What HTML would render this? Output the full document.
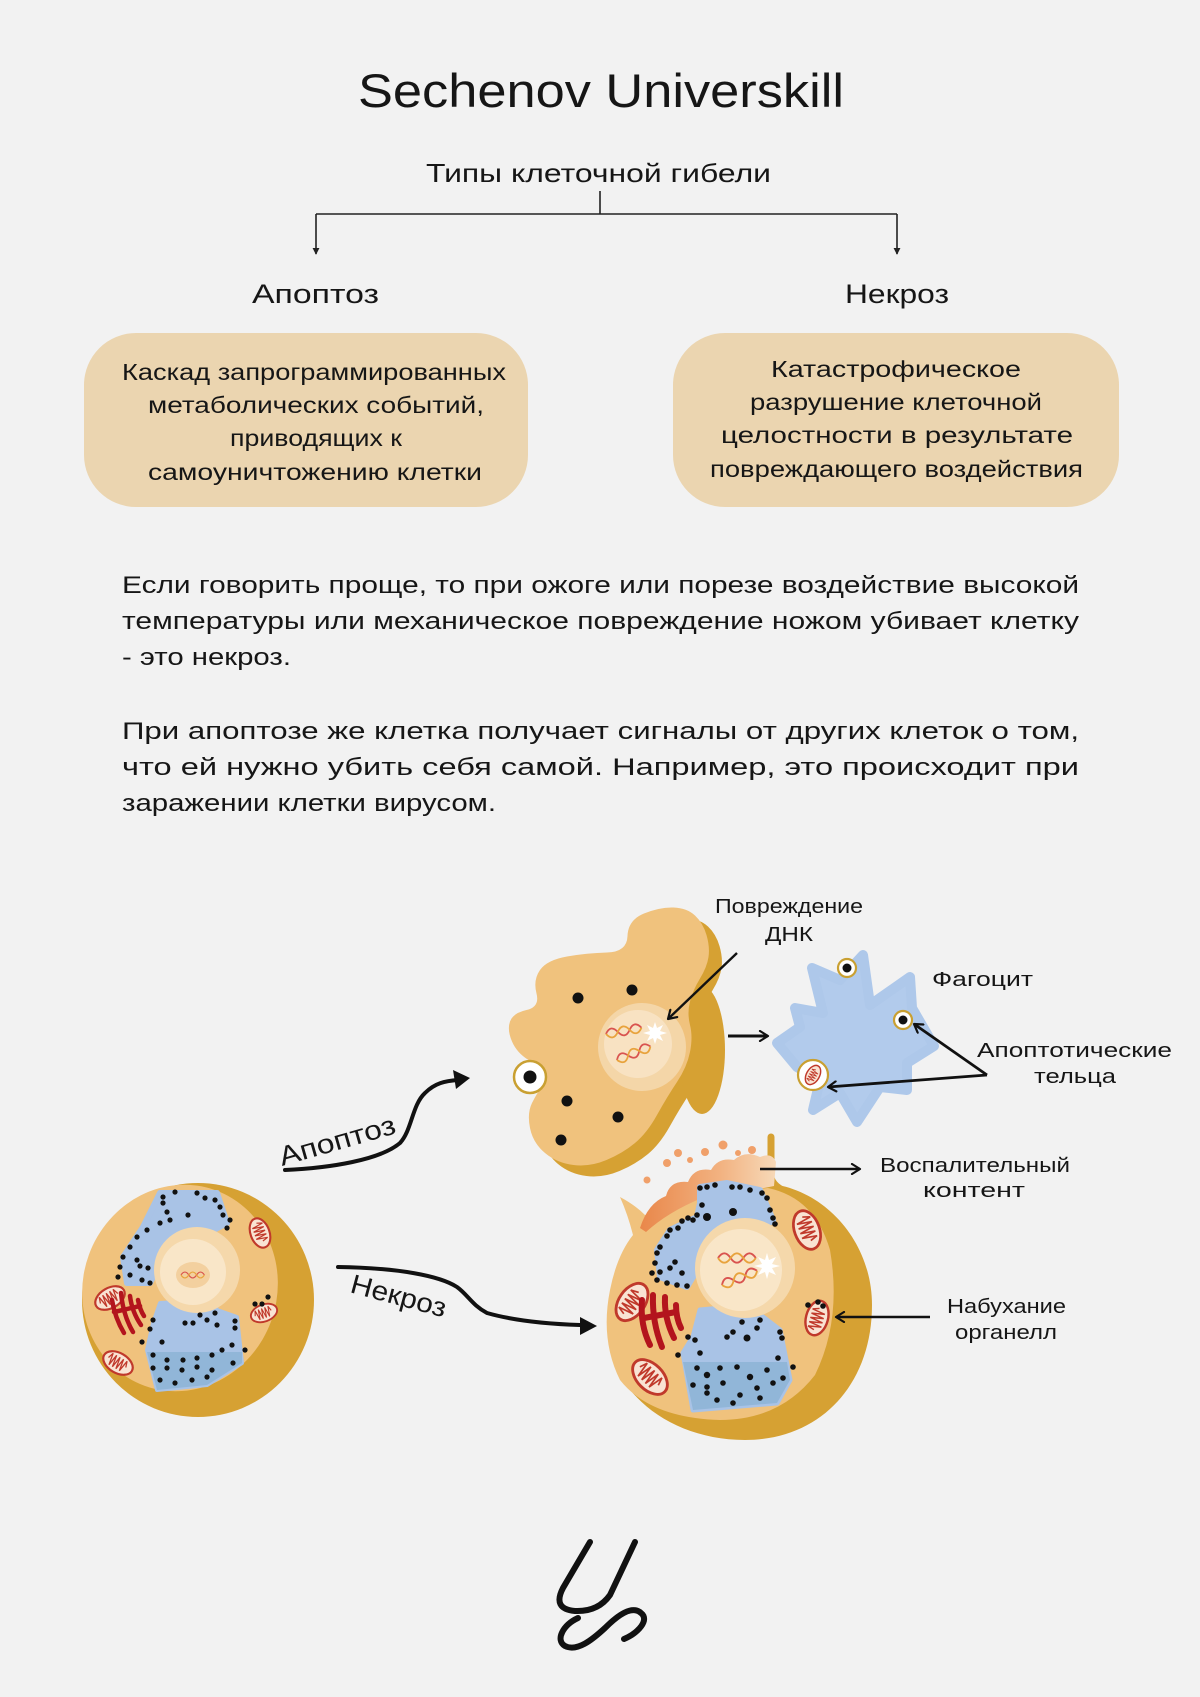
<!DOCTYPE html>
<html>
<head>
<meta charset="utf-8">
<style>
html,body{margin:0;padding:0;background:#f2f2f2;}
svg{display:block;}
text{font-family:"Liberation Sans","DejaVu Sans",sans-serif;fill:#161616;}
</style>
</head>
<body>
<svg width="1200" height="1697" viewBox="0 0 1200 1697" xmlns="http://www.w3.org/2000/svg">
<defs>
  <marker id="chev" viewBox="0 0 12 12" refX="10" refY="6" markerWidth="12" markerHeight="12" markerUnits="userSpaceOnUse" orient="auto">
    <path d="M2,1 L10,6 L2,11" fill="none" stroke="#111" stroke-width="2.2" stroke-linecap="round" stroke-linejoin="round"/>
  </marker>
  <marker id="tri" viewBox="0 0 8 8" refX="7" refY="4" markerWidth="7" markerHeight="7" markerUnits="userSpaceOnUse" orient="auto">
    <path d="M0,0 L8,4 L0,8 Z" fill="#222"/>
  </marker>
  <g id="mito">
    <ellipse rx="16" ry="10" fill="#f9e3d3" stroke="#c0392b" stroke-width="2.2"/>
    <path d="M-11,0 l2,-6 l2,12 l2,-12 l2,12 l2,-12 l2,12 l2,-12 l2,12 l2,-12 l2,6" fill="none" stroke="#c0392b" stroke-width="1.3"/>
  </g>
  <g id="helix">
    <path d="M0,0 q6,-9 12,0 t12,0 t12,0" fill="none" stroke="#d9534f" stroke-width="1.8"/>
    <path d="M0,0 q6,9 12,0 t12,0 t12,0" fill="none" stroke="#e8a33d" stroke-width="1.8"/>
  </g>
  <linearGradient id="infl" x1="0" y1="0" x2="1" y2="0">
    <stop offset="0" stop-color="#e9874a"/>
    <stop offset="0.6" stop-color="#f2b382"/>
    <stop offset="1" stop-color="#f7d9b8"/>
  </linearGradient>
</defs>

<!-- Title -->
<text x="358" y="107" font-size="47" textLength="486" lengthAdjust="spacingAndGlyphs">Sechenov Universkill</text>
<text x="426" y="182" font-size="26" textLength="345" lengthAdjust="spacingAndGlyphs">Типы клеточной гибели</text>

<!-- Connector -->
<g stroke="#222" stroke-width="1.6" fill="none">
  <line x1="600" y1="191" x2="600" y2="214"/>
  <line x1="316" y1="214" x2="897" y2="214"/>
  <line x1="316" y1="214" x2="316" y2="254" marker-end="url(#tri)"/>
  <line x1="897" y1="214" x2="897" y2="254" marker-end="url(#tri)"/>
</g>

<text x="252" y="303" font-size="27" textLength="127" lengthAdjust="spacingAndGlyphs">Апоптоз</text>
<text x="845" y="303" font-size="27" textLength="104" lengthAdjust="spacingAndGlyphs">Некроз</text>

<!-- Boxes -->
<rect x="84" y="333" width="444" height="174" rx="52" fill="#ebd5b0"/>
<rect x="673" y="333" width="446" height="174" rx="52" fill="#ebd5b0"/>

<g font-size="23">
  <text x="122" y="380" textLength="384" lengthAdjust="spacingAndGlyphs">Каскад запрограммированных</text>
  <text x="148" y="413" textLength="336" lengthAdjust="spacingAndGlyphs">метаболических событий,</text>
  <text x="230" y="446" textLength="172" lengthAdjust="spacingAndGlyphs">приводящих к</text>
  <text x="148" y="480" textLength="334" lengthAdjust="spacingAndGlyphs">самоуничтожению клетки</text>

  <text x="771" y="377" textLength="250" lengthAdjust="spacingAndGlyphs">Катастрофическое</text>
  <text x="750" y="410" textLength="292" lengthAdjust="spacingAndGlyphs">разрушение клеточной</text>
  <text x="721" y="443" textLength="352" lengthAdjust="spacingAndGlyphs">целостности в результате</text>
  <text x="710" y="477" textLength="373" lengthAdjust="spacingAndGlyphs">повреждающего воздействия</text>
</g>

<!-- Paragraphs -->
<g font-size="24">
  <text x="122" y="593" textLength="957" lengthAdjust="spacingAndGlyphs">Если говорить проще, то при ожоге или порезе воздействие высокой</text>
  <text x="122" y="629" textLength="957" lengthAdjust="spacingAndGlyphs">температуры или механическое повреждение ножом убивает клетку</text>
  <text x="122" y="665" textLength="169" lengthAdjust="spacingAndGlyphs">- это некроз.</text>

  <text x="122" y="739" textLength="957" lengthAdjust="spacingAndGlyphs">При апоптозе же клетка получает сигналы от других клеток о том,</text>
  <text x="122" y="775" textLength="957" lengthAdjust="spacingAndGlyphs">что ей нужно убить себя самой. Например, это происходит при</text>
  <text x="122" y="811" textLength="374" lengthAdjust="spacingAndGlyphs">заражении клетки вирусом.</text>
</g>

<!-- ===== Apoptotic cell ===== -->
<g>
  <g transform="translate(13,11)">
    <path fill="#d6a133" d="M627.5,936 Q628,920 644,913.5 Q660,907 673.5,907.5 Q687,908 695,915.5 Q703,923 706.5,935 Q710,947 708.5,957 Q707,967 700,978.5 Q693,990 690,1001.5 Q687,1013 690,1025 Q693,1037 690,1052 Q687,1067 677,1082 Q667,1097 657,1115 Q647,1133 635,1143 Q623,1153 606.5,1160 Q590,1167 573.5,1165 Q557,1163 545,1153 Q533,1143 530,1128 Q527,1113 532,1103 Q537,1093 542,1086.5 Q547,1080 543.5,1073.5 Q540,1067 528.5,1060 Q517,1053 512,1041.5 Q507,1030 510,1021.5 Q513,1013 526.5,1010 Q540,1007 536.5,993.5 Q533,980 540,970 Q547,960 567,956.5 Q587,953 607,952.5 Q627,952 627.5,936 Z"/>
  </g>
  <ellipse cx="702" cy="1050" rx="23" ry="64" fill="#d6a133"/>
  <path fill="#f0c27d" d="M627.5,936 Q628,920 644,913.5 Q660,907 673.5,907.5 Q687,908 695,915.5 Q703,923 706.5,935 Q710,947 708.5,957 Q707,967 700,978.5 Q693,990 690,1001.5 Q687,1013 690,1025 Q693,1037 690,1052 Q687,1067 677,1082 Q667,1097 657,1115 Q647,1133 635,1143 Q623,1153 606.5,1160 Q590,1167 573.5,1165 Q557,1163 545,1153 Q533,1143 530,1128 Q527,1113 532,1103 Q537,1093 542,1086.5 Q547,1080 543.5,1073.5 Q540,1067 528.5,1060 Q517,1053 512,1041.5 Q507,1030 510,1021.5 Q513,1013 526.5,1010 Q540,1007 536.5,993.5 Q533,980 540,970 Q547,960 567,956.5 Q587,953 607,952.5 Q627,952 627.5,936 Z"/>
  <circle cx="642" cy="1047" r="44" fill="#f4d6a8"/>
  <circle cx="638" cy="1044" r="34" fill="#f8e2c2"/>
  <use href="#helix" transform="translate(606,1034) rotate(-10)"/>
  <use href="#helix" transform="translate(617,1060) rotate(-22)"/>
  <path d="M655,1022 l2,6 l6,-3 l-3,6 l7,2 l-7,2 l3,6 l-6,-3 l-2,6 l-2,-6 l-6,3 l3,-6 l-7,-2 l7,-2 l-3,-6 l6,3 Z" fill="#fff"/>
  <g fill="#111">
    <circle cx="578" cy="998" r="5.5"/>
    <circle cx="632" cy="990" r="5.5"/>
    <circle cx="567" cy="1101" r="5.5"/>
    <circle cx="618" cy="1117" r="5.5"/>
    <circle cx="561" cy="1140" r="5.5"/>
  </g>
  <circle cx="530" cy="1077" r="16" fill="#fff" stroke="#c9a032" stroke-width="2.5"/>
  <circle cx="530" cy="1077" r="6.5" fill="#111"/>
</g>

<!-- DNA damage arrow -->
<line x1="737" y1="953" x2="668" y2="1019" stroke="#111" stroke-width="2.4" marker-end="url(#chev)"/>

<!-- arrow to phagocyte -->
<line x1="728" y1="1036" x2="768" y2="1036" stroke="#111" stroke-width="3" marker-end="url(#chev)"/>

<!-- ===== Phagocyte ===== -->
<polygon points="777,1043 800,1027 795,1008 823,1013 812,968 840,980 863,955 870,1005 910,977 912,1008 934,1046 907,1063 907,1090 880,1087 857,1122 840,1093 813,1110 820,1080 797,1067" fill="#b2cbec" stroke="#aec8ea" stroke-width="10" stroke-linejoin="round"/>
<circle cx="847" cy="968" r="9" fill="#fff" stroke="#c9a032" stroke-width="2.2"/>
<circle cx="847" cy="968" r="4.5" fill="#111"/>
<circle cx="903" cy="1020" r="9" fill="#fff" stroke="#c9a032" stroke-width="2.2"/>
<circle cx="903" cy="1020" r="4.5" fill="#111"/>
<circle cx="813" cy="1075" r="15" fill="#fff" stroke="#c9a032" stroke-width="2.2"/>
<use href="#mito" transform="translate(813,1075) rotate(-60) scale(0.65)"/>

<!-- apoptotic bodies arrows -->
<line x1="987" y1="1075" x2="914" y2="1024" stroke="#111" stroke-width="2.8" marker-end="url(#chev)"/>
<line x1="987" y1="1075" x2="828" y2="1087" stroke="#111" stroke-width="2.8" marker-end="url(#chev)"/>

<!-- labels -->
<g font-size="20">
  <text x="715" y="913" textLength="148" lengthAdjust="spacingAndGlyphs">Повреждение</text>
  <text x="765" y="941" textLength="48" lengthAdjust="spacingAndGlyphs">ДНК</text>
  <text x="932" y="986" textLength="101" lengthAdjust="spacingAndGlyphs">Фагоцит</text>
  <text x="977" y="1057" textLength="195" lengthAdjust="spacingAndGlyphs">Апоптотические</text>
  <text x="1034" y="1083" textLength="82" lengthAdjust="spacingAndGlyphs">тельца</text>
  <text x="880" y="1172" textLength="190" lengthAdjust="spacingAndGlyphs">Воспалительный</text>
  <text x="923" y="1197" textLength="102" lengthAdjust="spacingAndGlyphs">контент</text>
  <text x="947" y="1313" textLength="119" lengthAdjust="spacingAndGlyphs">Набухание</text>
  <text x="955" y="1339" textLength="102" lengthAdjust="spacingAndGlyphs">органелл</text>
</g>

<!-- curved arrows -->
<path d="M285,1170 C330,1168 380,1160 400,1143 C412,1130 412,1105 425,1093 C435,1083 445,1081 458,1080" fill="none" stroke="#111" stroke-width="4" stroke-linecap="round"/>
<path d="M470,1078 L453,1070 L456,1089 Z" fill="#111"/>
<path d="M338,1267 C400,1268 440,1276 457,1287 C468,1295 472,1305 487,1313 C515,1321 550,1324 580,1325" fill="none" stroke="#111" stroke-width="4" stroke-linecap="round"/>
<path d="M597,1326 L580,1317 L580,1335 Z" fill="#111"/>

<text x="282" y="1166" font-size="27" textLength="120" lengthAdjust="spacingAndGlyphs" transform="rotate(-16 282 1166)">Апоптоз</text>
<text x="349" y="1292" font-size="27" textLength="98" lengthAdjust="spacingAndGlyphs" transform="rotate(15 349 1292)">Некроз</text>

<!-- ===== Normal cell ===== -->
<g>
  <ellipse cx="198" cy="1300" rx="116" ry="117" fill="#d6a133"/>
  <ellipse cx="180" cy="1288" rx="97" ry="104" fill="#f0c27d" transform="rotate(20 180 1288)"/>
  <polygon points="160,1193 217,1193 227,1223 210,1232 175,1250 160,1262 150,1283 127,1283 123,1257 143,1227" fill="#a9c3e6" stroke="#a9c3e6" stroke-width="6" stroke-linejoin="round"/>
  <polygon points="160,1303 213,1300 217,1310 237,1317 242,1363 207,1385 157,1390 147,1350 153,1323" fill="#a9c3e6" stroke="#a9c3e6" stroke-width="4" stroke-linejoin="round"/>
  <polygon points="147,1352 242,1352 242,1363 207,1385 157,1390" fill="#91b6d8"/>
  <circle cx="197" cy="1270" r="43" fill="#f5d8ab"/>
  <circle cx="193" cy="1272" r="33" fill="#f9e6c8"/>
  <ellipse cx="193" cy="1275" rx="17" ry="13" fill="#f3d09f"/>
  <use href="#helix" transform="translate(181,1275) scale(0.65)"/>
  <use href="#mito" transform="translate(110,1298) rotate(-30)"/>
  <use href="#mito" transform="translate(260,1233) rotate(70) scale(0.95)"/>
  <use href="#mito" transform="translate(264,1313) rotate(-20) scale(0.85)"/>
  <use href="#mito" transform="translate(118,1363) rotate(30)"/>
  <g fill="none" stroke="#b3141d" stroke-width="4.5" stroke-linecap="round">
    <path d="M112,1300 Q115,1318 124,1333"/>
    <path d="M121,1293 Q123,1315 133,1332"/>
    <path d="M130,1296 Q132,1312 141,1325"/>
    <path d="M138,1300 Q140,1310 144,1316"/>
    <path d="M114,1312 L140,1306"/>
  </g>
  <g fill="#111">
    <circle cx="163" cy="1197" r="2.6"/><circle cx="175" cy="1192" r="2.6"/><circle cx="197" cy="1193" r="2.6"/><circle cx="205" cy="1198" r="2.6"/><circle cx="215" cy="1200" r="2.6"/><circle cx="220" cy="1207" r="2.6"/><circle cx="223" cy="1215" r="2.6"/><circle cx="230" cy="1220" r="2.6"/><circle cx="227" cy="1228" r="2.6"/><circle cx="170" cy="1220" r="2.6"/><circle cx="160" cy="1223" r="2.6"/><circle cx="147" cy="1230" r="2.6"/><circle cx="137" cy="1237" r="2.6"/><circle cx="130" cy="1247" r="2.6"/><circle cx="123" cy="1257" r="2.6"/><circle cx="120" cy="1267" r="2.6"/><circle cx="118" cy="1277" r="2.6"/><circle cx="130" cy="1275" r="2.6"/><circle cx="142" cy="1280" r="2.6"/><circle cx="150" cy="1283" r="2.6"/><circle cx="137" cy="1260" r="2.6"/><circle cx="148" cy="1268" r="2.6"/><circle cx="140" cy="1266" r="2.6"/><circle cx="163" cy="1203" r="2.6"/><circle cx="167" cy="1212" r="2.6"/><circle cx="188" cy="1215" r="2.6"/>
    <circle cx="153" cy="1320" r="2.6"/><circle cx="150" cy="1329" r="2.6"/><circle cx="142" cy="1342" r="2.6"/><circle cx="162" cy="1342" r="2.6"/><circle cx="185" cy="1323" r="2.6"/><circle cx="193" cy="1323" r="2.6"/><circle cx="200" cy="1315" r="2.6"/><circle cx="207" cy="1320" r="2.6"/><circle cx="215" cy="1313" r="2.6"/><circle cx="217" cy="1325" r="2.6"/><circle cx="235" cy="1321" r="2.6"/><circle cx="235" cy="1328" r="2.6"/><circle cx="245" cy="1350" r="2.6"/><circle cx="232" cy="1345" r="2.6"/><circle cx="222" cy="1350" r="2.6"/><circle cx="212" cy="1355" r="2.6"/><circle cx="197" cy="1358" r="2.6"/><circle cx="183" cy="1360" r="2.6"/><circle cx="167" cy="1360" r="2.6"/><circle cx="153" cy="1355" r="2.6"/><circle cx="153" cy="1368" r="2.6"/><circle cx="167" cy="1368" r="2.6"/><circle cx="182" cy="1370" r="2.6"/><circle cx="197" cy="1367" r="2.6"/><circle cx="212" cy="1370" r="2.6"/><circle cx="160" cy="1380" r="2.6"/><circle cx="175" cy="1383" r="2.6"/><circle cx="192" cy="1380" r="2.6"/><circle cx="207" cy="1377" r="2.6"/><circle cx="233" cy="1363" r="2.6"/>
    <circle cx="255" cy="1304" r="2.6"/><circle cx="262" cy="1304" r="2.6"/><circle cx="268" cy="1297" r="2.6"/>
  </g>
</g>

<!-- ===== Necrotic cell ===== -->
<g>
  <path fill="#d6a133" d="M778,1185 C830,1195 872,1245 872,1305 C872,1385 820,1440 745,1440 C670,1440 610,1392 608,1332 C606,1282 622,1255 635,1232 L700,1188 Z"/>
  <path d="M771,1137 L771,1178 Q775,1190 795,1194" fill="none" stroke="#d6a133" stroke-width="7" stroke-linecap="round"/>
  <path fill="#f0c27d" d="M620,1197 Q635,1205 645,1215 L700,1195 L768,1188 Q815,1198 830,1250 Q842,1320 815,1375 Q780,1420 720,1420 Q650,1418 620,1380 Q600,1340 610,1290 Q617,1255 633,1235 Q628,1215 620,1197 Z"/>
  <path fill="url(#infl)" d="M640,1228 Q648,1203 666,1196 Q670,1180 688,1182 Q694,1167 711,1170 Q718,1157 734,1160 Q745,1150 760,1157 Q772,1152 776,1162 L774,1186 Q740,1193 702,1198 Q668,1212 646,1232 Z"/>
  <g fill="#f0a06a">
    <circle cx="678" cy="1153" r="4"/><circle cx="705" cy="1152" r="4"/><circle cx="723" cy="1145" r="4.5"/><circle cx="752" cy="1150" r="4"/><circle cx="647" cy="1180" r="3.5"/><circle cx="667" cy="1163" r="4"/><circle cx="690" cy="1160" r="3"/><circle cx="738" cy="1153" r="3"/>
  </g>
  <polygon points="700,1187 727,1183 760,1190 773,1220 760,1230 707,1247 693,1277 687,1287 660,1277 657,1250 670,1230 697,1217 700,1203" fill="#a9c3e6" stroke="#a9c3e6" stroke-width="6" stroke-linejoin="round"/>
  <polygon points="700,1310 733,1307 763,1317 780,1330 790,1380 777,1403 693,1410 683,1353 693,1337" fill="#a9c3e6" stroke="#a9c3e6" stroke-width="5" stroke-linejoin="round"/>
  <polygon points="683,1362 787,1362 790,1380 777,1403 693,1410" fill="#91b6d8"/>
  <circle cx="745" cy="1268" r="50" fill="#f5d8ab"/>
  <circle cx="741" cy="1270" r="41" fill="#f9e6c8"/>
  <use href="#helix" transform="translate(718,1258) scale(1.05)"/>
  <use href="#helix" transform="translate(722,1285) rotate(-22) scale(1.05)"/>
  <path d="M767,1253 l2,7 l7,-3 l-4,7 l8,2 l-8,2 l4,7 l-7,-3 l-2,7 l-2,-7 l-7,3 l4,-7 l-8,-2 l8,-2 l-4,-7 l7,3 Z" fill="#fff"/>
  <use href="#mito" transform="translate(632,1302) rotate(-55) scale(1.3)"/>
  <use href="#mito" transform="translate(807,1230) rotate(70) scale(1.25)"/>
  <use href="#mito" transform="translate(817,1318) rotate(-75) scale(1.1)"/>
  <use href="#mito" transform="translate(650,1377) rotate(45) scale(1.3)"/>
  <g fill="none" stroke="#b3141d" stroke-width="6" stroke-linecap="round">
    <path d="M642,1300 Q640,1325 650,1345"/>
    <path d="M653,1295 Q652,1322 662,1347"/>
    <path d="M665,1297 Q664,1318 674,1338"/>
    <path d="M676,1305 Q676,1318 681,1328"/>
    <path d="M644,1318 L676,1312"/>
  </g>
  <g fill="#111">
    <circle cx="700" cy="1188" r="2.8"/><circle cx="707" cy="1187" r="2.8"/><circle cx="715" cy="1185" r="2.8"/><circle cx="732" cy="1187" r="2.8"/><circle cx="740" cy="1187" r="2.8"/><circle cx="750" cy="1190" r="2.8"/><circle cx="762" cy="1193" r="2.8"/><circle cx="767" cy="1198" r="2.8"/><circle cx="770" cy="1210" r="2.8"/><circle cx="773" cy="1218" r="2.8"/><circle cx="775" cy="1224" r="2.8"/><circle cx="702" cy="1205" r="2.8"/><circle cx="697" cy="1215" r="2.8"/><circle cx="693" cy="1220" r="2.8"/><circle cx="688" cy="1218" r="2.8"/><circle cx="682" cy="1221" r="2.8"/><circle cx="678" cy="1228" r="2.8"/><circle cx="670" cy="1230" r="2.8"/><circle cx="667" cy="1236" r="2.8"/><circle cx="660" cy="1247" r="2.8"/><circle cx="657" cy="1253" r="2.8"/><circle cx="655" cy="1263" r="2.8"/><circle cx="652" cy="1273" r="2.8"/><circle cx="657" cy="1280" r="2.8"/><circle cx="667" cy="1283" r="2.8"/><circle cx="677" cy="1285" r="2.8"/><circle cx="687" cy="1286" r="2.8"/><circle cx="660" cy="1272" r="2.8"/><circle cx="670" cy="1268" r="2.8"/><circle cx="675" cy="1262" r="2.8"/><circle cx="682" cy="1273" r="2.8"/><circle cx="733" cy="1212" r="4"/><circle cx="707" cy="1217" r="4"/>
    <circle cx="695" cy="1340" r="2.8"/><circle cx="688" cy="1337" r="2.8"/><circle cx="678" cy="1355" r="2.8"/><circle cx="700" cy="1353" r="2.8"/><circle cx="727" cy="1337" r="2.8"/><circle cx="733" cy="1332" r="2.8"/><circle cx="742" cy="1322" r="2.8"/><circle cx="747" cy="1338" r="3.5"/><circle cx="757" cy="1328" r="2.8"/><circle cx="760" cy="1320" r="2.8"/><circle cx="780" cy="1332" r="2.8"/><circle cx="782" cy="1338" r="2.8"/><circle cx="697" cy="1368" r="2.8"/><circle cx="707" cy="1375" r="3.2"/><circle cx="720" cy="1368" r="2.8"/><circle cx="737" cy="1367" r="2.8"/><circle cx="750" cy="1377" r="3.2"/><circle cx="767" cy="1370" r="2.8"/><circle cx="778" cy="1358" r="2.8"/><circle cx="793" cy="1367" r="2.8"/><circle cx="693" cy="1385" r="2.8"/><circle cx="707" cy="1387" r="2.8"/><circle cx="723" cy="1383" r="2.8"/><circle cx="740" cy="1395" r="2.8"/><circle cx="757" cy="1388" r="2.8"/><circle cx="773" cy="1383" r="2.8"/><circle cx="783" cy="1378" r="2.8"/><circle cx="717" cy="1400" r="2.8"/><circle cx="733" cy="1403" r="2.8"/><circle cx="760" cy="1398" r="2.8"/><circle cx="707" cy="1393" r="2.8"/>
    <circle cx="808" cy="1305" r="2.8"/><circle cx="818" cy="1302" r="2.8"/><circle cx="823" cy="1306" r="2.8"/>
  </g>
</g>

<!-- necrosis label arrows -->
<line x1="760" y1="1169" x2="860" y2="1169" stroke="#111" stroke-width="2.4" marker-end="url(#chev)"/>
<line x1="930" y1="1317" x2="836" y2="1317" stroke="#111" stroke-width="2.4" marker-end="url(#chev)"/>

<!-- Logo -->
<g fill="none" stroke="#111" stroke-width="6" stroke-linecap="round">
  <path d="M590,1542 L563,1588 Q552,1609 575,1611 Q598,1612 610,1595 L635,1542"/>
  <path d="M578,1618 C563,1625 555,1640 565,1646 C577,1652 592,1640 605,1628 C618,1615 632,1605 641,1613 C650,1620 638,1633 624,1639"/>
</g>
</svg>
</body>
</html>
